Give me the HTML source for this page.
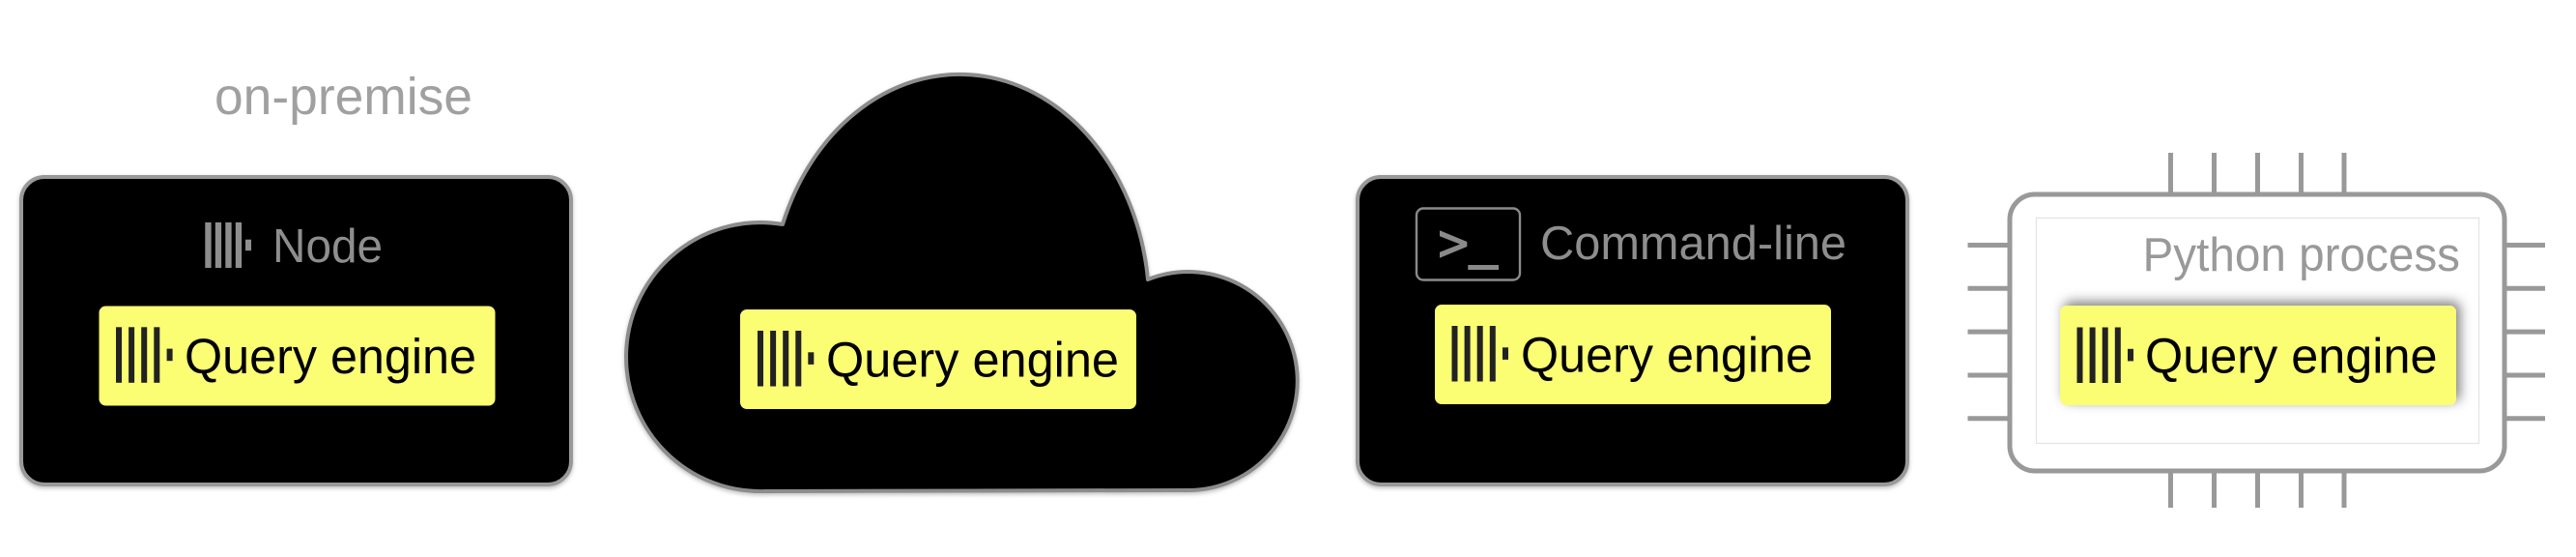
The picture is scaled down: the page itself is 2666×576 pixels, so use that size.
<!DOCTYPE html>
<html>
<head>
<meta charset="utf-8">
<style>
  html,body{margin:0;padding:0;background:#fff;}
  svg{display:block;}
  text{font-family:"Liberation Sans", Arial, sans-serif;}
</style>
</head>
<body>
<svg width="2666" height="576" viewBox="0 0 2666 576" xmlns="http://www.w3.org/2000/svg">
  <defs>
    <filter id="soft" x="-10%" y="-10%" width="120%" height="120%">
      <feDropShadow dx="0" dy="2" stdDeviation="2" flood-color="#000" flood-opacity="0.25"/>
    </filter>
    <filter id="qshadow" x="-20%" y="-40%" width="140%" height="180%">
      <feDropShadow dx="4" dy="-4" stdDeviation="6" flood-color="#000" flood-opacity="0.5"/>
    </filter>
  </defs>
  <rect x="0" y="0" width="2666" height="576" fill="#fff"/>

  <!-- ===== on-premise label ===== -->
  <text x="222" y="118" font-size="54" fill="#a0a0a0" textLength="267" lengthAdjust="spacingAndGlyphs">on-premise</text>

  <!-- ===== Box 1: Node ===== -->
  <rect x="22" y="183" width="569" height="318" rx="24" fill="#000" stroke="#999" stroke-width="4" filter="url(#soft)"/>
  <g fill="#8e8e8e">
    <rect x="212.3" y="230" width="6.3" height="47"/>
    <rect x="222.8" y="230" width="6.3" height="47"/>
    <rect x="233.3" y="230" width="6.3" height="47"/>
    <rect x="243.8" y="230" width="6.3" height="47"/>
    <rect x="254" y="247.7" width="6" height="11.5"/>
  </g>
  <text x="282" y="271" font-size="49" fill="#8e8e8e" textLength="114" lengthAdjust="spacingAndGlyphs">Node</text>

  <rect x="102.5" y="316.5" width="410" height="103" rx="7" fill="#fbfd73"/>
  <g fill="#222">
    <rect x="120" y="338.3" width="6" height="57.5"/>
    <rect x="133.1" y="338.3" width="6" height="57.5"/>
    <rect x="146.2" y="338.3" width="6" height="57.5"/>
    <rect x="159.3" y="338.3" width="6" height="57.5"/>
    <rect x="172.6" y="360.6" width="6" height="12.6"/>
  </g>
  <text x="191" y="386" font-size="51" fill="#000" textLength="302" lengthAdjust="spacingAndGlyphs">Query engine</text>

  <!-- ===== Cloud ===== -->
  <path d="M 792 508 A 139 139 0 1 1 810 232 A 196 240 0 0 1 1188 289 A 113 113 0 1 1 1230 507 Z"
        fill="#000" stroke="#8c8c8c" stroke-width="4" stroke-linejoin="round" filter="url(#soft)"/>
  <rect x="766" y="320" width="410" height="103" rx="7" fill="#fbfd73"/>
  <g fill="#222">
    <rect x="784" y="342" width="6" height="57.5"/>
    <rect x="797.1" y="342" width="6" height="57.5"/>
    <rect x="810.2" y="342" width="6" height="57.5"/>
    <rect x="823.3" y="342" width="6" height="57.5"/>
    <rect x="836.3" y="364.3" width="6" height="12.6"/>
  </g>
  <text x="855" y="389.5" font-size="51" fill="#000" textLength="303" lengthAdjust="spacingAndGlyphs">Query engine</text>

  <!-- ===== Box 3: Command-line ===== -->
  <rect x="1405" y="183" width="569" height="318" rx="24" fill="#000" stroke="#999" stroke-width="4" filter="url(#soft)"/>
  <rect x="1466" y="215.5" width="107" height="74" rx="7" fill="none" stroke="#8a8a8a" stroke-width="2.4"/>
  <polygon points="1490,238.3 1518.3,250 1518.3,255 1490,266.7 1490,260.7 1511,252.5 1490,244.3" fill="#8a8a8a"/>
  <rect x="1519.3" y="274" width="31.7" height="5" fill="#8a8a8a"/>
  <text x="1594" y="268" font-size="49" fill="#8e8e8e" textLength="317" lengthAdjust="spacingAndGlyphs">Command-line</text>

  <rect x="1485" y="315" width="410" height="103" rx="7" fill="#fbfd73"/>
  <g fill="#222">
    <rect x="1502.5" y="337" width="6" height="57.5"/>
    <rect x="1515.6" y="337" width="6" height="57.5"/>
    <rect x="1528.7" y="337" width="6" height="57.5"/>
    <rect x="1541.8" y="337" width="6" height="57.5"/>
    <rect x="1555" y="359.3" width="6" height="12.6"/>
  </g>
  <text x="1574" y="384.5" font-size="51" fill="#000" textLength="302" lengthAdjust="spacingAndGlyphs">Query engine</text>

  <!-- ===== Chip: Python process ===== -->
  <g stroke="#999" stroke-width="5">
    <line x1="2246.5" y1="158" x2="2246.5" y2="200"/>
    <line x1="2291.5" y1="158" x2="2291.5" y2="200"/>
    <line x1="2336.5" y1="158" x2="2336.5" y2="200"/>
    <line x1="2381.5" y1="158" x2="2381.5" y2="200"/>
    <line x1="2426" y1="158" x2="2426" y2="200"/>
    <line x1="2246.5" y1="488" x2="2246.5" y2="525"/>
    <line x1="2291.5" y1="488" x2="2291.5" y2="525"/>
    <line x1="2336.5" y1="488" x2="2336.5" y2="525"/>
    <line x1="2381.5" y1="488" x2="2381.5" y2="525"/>
    <line x1="2426" y1="488" x2="2426" y2="525"/>
    <line x1="2036.5" y1="253.5" x2="2079" y2="253.5"/>
    <line x1="2036.5" y1="298.3" x2="2079" y2="298.3"/>
    <line x1="2036.5" y1="343.1" x2="2079" y2="343.1"/>
    <line x1="2036.5" y1="388" x2="2079" y2="388"/>
    <line x1="2036.5" y1="432.8" x2="2079" y2="432.8"/>
    <line x1="2592" y1="253.5" x2="2634" y2="253.5"/>
    <line x1="2592" y1="298.3" x2="2634" y2="298.3"/>
    <line x1="2592" y1="343.1" x2="2634" y2="343.1"/>
    <line x1="2592" y1="388" x2="2634" y2="388"/>
    <line x1="2592" y1="432.8" x2="2634" y2="432.8"/>
  </g>
  <rect x="2080" y="201" width="512" height="286" rx="26" fill="#fff" stroke="#999" stroke-width="5"/>
  <rect x="2107.5" y="225.5" width="458" height="233" fill="none" stroke="#e3e3e3" stroke-width="1.2"/>
  <text x="2217.5" y="280" font-size="49" fill="#999" textLength="328.5" lengthAdjust="spacingAndGlyphs">Python process</text>

  <rect x="2132" y="316" width="410" height="103" rx="7" fill="#fbfd73" filter="url(#qshadow)"/>
  <g fill="#222">
    <rect x="2149.5" y="338.5" width="6" height="57.5"/>
    <rect x="2162.6" y="338.5" width="6" height="57.5"/>
    <rect x="2175.7" y="338.5" width="6" height="57.5"/>
    <rect x="2188.8" y="338.5" width="6" height="57.5"/>
    <rect x="2202" y="360.8" width="6" height="12.6"/>
  </g>
  <text x="2220" y="385.5" font-size="51" fill="#000" textLength="302.5" lengthAdjust="spacingAndGlyphs">Query engine</text>
</svg>
</body>
</html>
